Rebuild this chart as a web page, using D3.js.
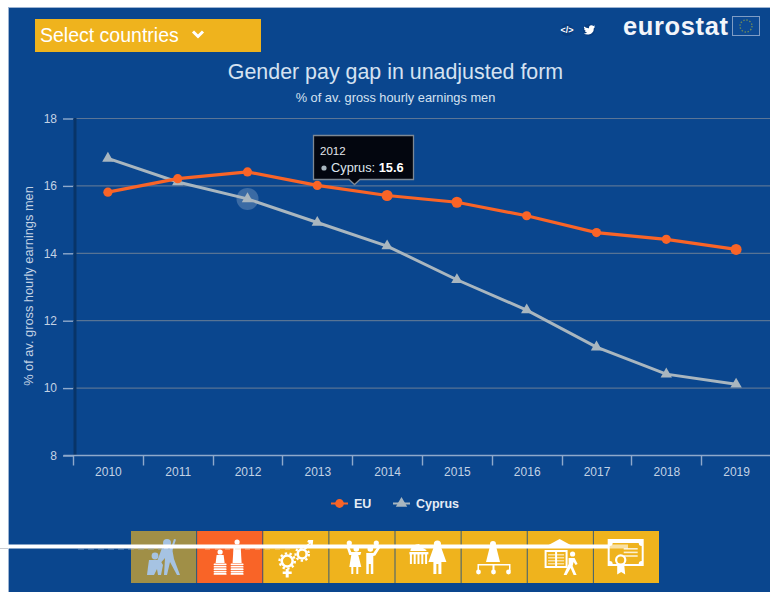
<!DOCTYPE html>
<html>
<head>
<meta charset="utf-8">
<script src="https://cdn.jsdelivr.net/npm/d3@7/dist/d3.min.js"></script>
<style>
html, body { margin: 0; padding: 0; background: #fff; }
svg { display: block; font-family: "Liberation Sans", Arial, sans-serif; }
</style>
</head>
<body>
<script>
const years = [2010, 2011, 2012, 2013, 2014, 2015, 2016, 2017, 2018, 2019];
const euValues = [15.8, 16.2, 16.4, 16.0, 15.7, 15.5, 15.1, 14.6, 14.4, 14.1];
const cyprusValues = [16.8, 16.1, 15.6, 14.9, 14.2, 13.2, 12.3, 11.2, 10.4, 10.1];
const yTicks = [8, 10, 12, 14, 16, 18];
const largeEuYears = [2014, 2015, 2019];
const tileColors = ["#a08f47", "#f96427", "#efb31d", "#efb31d", "#efb31d", "#efb31d", "#efb31d", "#efb31d"];
const hoverYear = 2012;

const width = 770, height = 592;
const blue = "#0a468e", orange = "#f96427", grey = "#a9b6bf";

const svg = d3.select("body").append("svg")
    .attr("width", width)
    .attr("height", height);

svg.append("rect")
    .attr("x", 8.5).attr("y", 7.5)
    .attr("width", width).attr("height", height)
    .attr("fill", blue)
    .attr("stroke", "#9db4d2");

const x = d3.scaleBand().domain(years).range([73, 771]);
const y = d3.scaleLinear().domain([8, 18]).range([455, 118]);
const cx = d => x(d) + x.bandwidth() / 2;

// header
svg.append("rect").attr("x", 35).attr("y", 19).attr("width", 226).attr("height", 33).attr("fill", "#efb31d");
svg.append("text").attr("x", 40).attr("y", 41.5).attr("font-size", 19.5).attr("fill", "#fff").text("Select countries");
svg.append("path").attr("d", "M193 31.5l5 5 5-5").attr("fill", "none").attr("stroke", "#fff").attr("stroke-width", 3);

svg.append("text").attr("x", 395.5).attr("y", 78.5).attr("text-anchor", "middle")
    .attr("font-size", 21.4).attr("fill", "#d5e2f1").text("Gender pay gap in unadjusted form");
svg.append("text").attr("x", 395.5).attr("y", 102).attr("text-anchor", "middle")
    .attr("font-size", 12.8).attr("fill", "#d5e2f1").text("% of av. gross hourly earnings men");

svg.append("text").attr("x", 623).attr("y", 35).attr("font-size", 25.5).attr("font-weight", "bold")
    .attr("textLength", 105).attr("fill", "#f2f5fa").text("eurostat");
svg.append("rect").attr("x", 732.5).attr("y", 16.5).attr("width", 27).attr("height", 19)
    .attr("fill", "#0d4a94").attr("stroke", "#7f9cc4");
svg.append("circle").attr("cx", 746).attr("cy", 26).attr("r", 6).attr("fill", "none")
    .attr("stroke", "#6d8a5c").attr("stroke-width", 1.4).attr("stroke-dasharray", "1.4 1.7");

// share icons
svg.append("circle").attr("cx", 567).attr("cy", 30).attr("r", 6).attr("fill", "#083d80");
svg.append("circle").attr("cx", 589).attr("cy", 30).attr("r", 6).attr("fill", "#083d80");
svg.append("text").attr("x", 567).attr("y", 33).attr("text-anchor", "middle").attr("font-size", 9)
    .attr("font-weight", "bold").attr("fill", "#fff").text("</>");
svg.append("path").attr("d", "M584 26.5q2.5 2 5 1.8q-.2-2.8 2.4-3q1.3 0 2 .8l1.7-.6l-1 1.5l1-.2q-.5.9-1.3 1.4q.1 5-5 6.3q-3 .4-5-1q2 0 3.3-1q-1.8-.2-2.2-1.5h1q-1.8-.7-1.8-2.3l1 .3q-1.7-1-1.1-2.5z")
    .attr("fill", "#fff");

// axes
const yAxis = d3.axisLeft(y).tickValues(yTicks).tickSize(10).tickPadding(6);
const xAxis = d3.axisBottom(x).tickSize(0).tickPadding(12);

svg.append("g").attr("class", "grid").selectAll("line")
    .data(yTicks.filter(d => d > 8))
    .join("line")
    .attr("x1", 73).attr("x2", width)
    .attr("y1", d => y(d) + 0.5).attr("y2", d => y(d) + 0.5)
    .attr("stroke", d => d === 18 ? "#5b7596" : "#6b7f97");

svg.append("line").attr("x1", 75).attr("x2", 75).attr("y1", 118).attr("y2", 455)
    .attr("stroke", "#083468").attr("stroke-width", 3);

const yG = svg.append("g").attr("transform", "translate(73,0.5)").call(yAxis);
yG.select(".domain").remove();
yG.selectAll("line").attr("stroke", "#8fa9cb").attr("stroke-width", 1.4);
yG.selectAll("text").attr("font-size", 12).attr("font-family", "inherit").attr("fill", "#c3d2e4");

const xG = svg.append("g").attr("transform", "translate(0.5,455.5)").call(xAxis);
xG.select(".domain").remove();
xG.selectAll(".tick line").remove();
xG.selectAll("text").attr("font-size", 12).attr("font-family", "inherit").attr("fill", "#c3d2e4");
xG.append("line").attr("x1", 63).attr("x2", width).attr("stroke", "#8fa9cb").attr("stroke-width", 1.4);
xG.selectAll(".edge").data(years).join("line").attr("class", "edge")
    .attr("x1", d => Math.round(x(d))).attr("x2", d => Math.round(x(d)))
    .attr("y1", 0).attr("y2", 10).attr("stroke", "#8fa9cb").attr("stroke-width", 1.4);

svg.append("text")
    .attr("transform", "translate(33,286) rotate(-90)")
    .attr("text-anchor", "middle").attr("font-size", 12.8).attr("fill", "#c3d2e4")
    .text("% of av. gross hourly earnings men");

// series
const line = d3.line().x(d => cx(d[0])).y(d => y(d[1]));
const euPts = d3.zip(years, euValues);
const cyPts = d3.zip(years, cyprusValues);
const tri = d3.symbol().type(d3.symbolTriangle).size(56);

svg.append("circle").attr("cx", cx(hoverYear)).attr("cy", y(cyprusValues[years.indexOf(hoverYear)]))
    .attr("r", 11).attr("fill", "#fff").attr("opacity", 0.2);

svg.append("path").datum(cyPts).attr("d", line).attr("fill", "none").attr("stroke", grey).attr("stroke-width", 3);
svg.selectAll(".cy").data(cyPts).join("path").attr("class", "cy")
    .attr("transform", d => `translate(${cx(d[0])},${y(d[1])})`)
    .attr("d", tri).attr("fill", grey);

svg.append("path").datum(euPts).attr("d", line).attr("fill", "none").attr("stroke", orange).attr("stroke-width", 3.2);
svg.selectAll(".eu").data(euPts).join("circle").attr("class", "eu")
    .attr("cx", d => cx(d[0])).attr("cy", d => y(d[1]))
    .attr("r", d => largeEuYears.includes(d[0]) ? 5.5 : 4.6)
    .attr("fill", orange);

// tooltip
const tip = svg.append("g").attr("transform", "translate(313,135)");
tip.append("path").attr("d", "M0.5 0.5H100.5V44.5H47L41.5 49.5L36 44.5H0.5Z")
    .attr("fill", "#03060f").attr("stroke", "#7d8894").attr("stroke-width", 1.3);
tip.append("text").attr("x", 7).attr("y", 20).attr("font-size", 11.5).attr("fill", "#e3e7ec").text(hoverYear);
tip.append("circle").attr("cx", 11).attr("cy", 33).attr("r", 2.6).attr("fill", grey);
const tipText = tip.append("text").attr("x", 18).attr("y", 37).attr("font-size", 12.8).attr("fill", "#dfe6ee");
tipText.append("tspan").text("Cyprus: ");
tipText.append("tspan").attr("font-weight", "bold").attr("fill", "#fff")
    .text(cyprusValues[years.indexOf(hoverYear)]);

// legend
const legend = svg.append("g").attr("font-size", 12.5).attr("font-weight", "bold").attr("fill", "#e5ecf5");
legend.append("line").attr("x1", 331).attr("x2", 348).attr("y1", 503.5).attr("y2", 503.5).attr("stroke", orange).attr("stroke-width", 2);
legend.append("circle").attr("cx", 339.5).attr("cy", 503.5).attr("r", 4.4).attr("fill", orange);
legend.append("text").attr("x", 354).attr("y", 508).text("EU");
legend.append("line").attr("x1", 393).attr("x2", 410).attr("y1", 503.5).attr("y2", 503.5).attr("stroke", grey).attr("stroke-width", 2);
legend.append("path").attr("transform", "translate(401.5,503.5)").attr("d", tri).attr("fill", grey);
legend.append("text").attr("x", 416).attr("y", 508).text("Cyprus");

// bottom tiles
const tileX = d3.scaleBand().domain(d3.range(tileColors.length)).range([131, 659]).paddingInner(0.012);
const tiles = svg.selectAll(".tile").data(tileColors).join("g").attr("class", "tile")
    .attr("transform", (d, i) => `translate(${tileX(i)},531)`);
tiles.append("rect").attr("width", tileX.bandwidth()).attr("height", 52).attr("fill", d => d);

const icons = [
    // woman with children
    g => {
        g.append("circle").attr("cx", 36).attr("cy", 12).attr("r", 4);
        g.append("path").attr("d", "M31 17h10l2 11l6 16h-3l-7-13l-3 13h-3l1-17l-7 8l-2-2z");
        g.append("path").attr("d", "M43 8l2 .5l-4 12l-2-.5z");
        g.append("circle").attr("cx", 24).attr("cy", 25).attr("r", 3.4);
        g.append("path").attr("d", "M18 29h11l3 5l-2 10h-3l-1-6l-3 6h-7l1-8z");
    },
    // figures on coins
    g => {
        [[23, 3], [40, 13]].forEach(([c, h]) => {
            g.append("circle").attr("cx", c).attr("cy", 24 - h).attr("r", 2.6);
            g.append("path").attr("d", `M${c - 3.5} ${27 - h}h7l1 ${h + 5}h-9z`);
            d3.range(5).forEach(k => g.append("rect").attr("x", c - 6.5).attr("y", 32.5 + k * 2.4).attr("width", 13).attr("height", 1.7).attr("rx", 0.85));
        });
    },
    // gears
    g => {
        [[24, 30, 5.5], [39, 23, 4.5]].forEach(([a, b, r]) => {
            g.append("circle").attr("cx", a).attr("cy", b).attr("r", r).attr("fill", "none").attr("stroke", "#fff").attr("stroke-width", 2.6);
            g.append("circle").attr("cx", a).attr("cy", b).attr("r", r + 2.2).attr("fill", "none").attr("stroke", "#fff").attr("stroke-width", 2.2).attr("stroke-dasharray", "2.4 2.4");
        });
        g.append("path").attr("d", "M22.5 38h3v2.5h3v2.5h-3v3.5h-3v-3.5h-3v-2.5h3z");
        g.append("path").attr("d", "M42 15l4-3l-2-1l1-2h5l-.5 5h-2l-.2-1.5l-4 3.5z");
    },
    // parents raising children
    g => {
        g.append("circle").attr("cx", 20).attr("cy", 12).attr("r", 2.6);
        g.append("circle").attr("cx", 27).attr("cy", 18).attr("r", 2.8);
        g.append("path").attr("d", "M17 15l2-1l3 7h10l-1 3l-2 0l3 12h-12l2-12h-2z");
        g.append("path").attr("d", "M22 36h2v7h-2zM27 36h2v7h-2z");
        g.append("circle").attr("cx", 47).attr("cy", 12).attr("r", 2.6);
        g.append("circle").attr("cx", 41).attr("cy", 18).attr("r", 2.8);
        g.append("path").attr("d", "M37 22h7l5-7l2 1.5l-5 8l-2 .5v18h-2.5v-10h-2v10h-2.5z");
    },
    // parliament and woman
    g => {
        g.append("path").attr("d", "M15 19q2-6 9-6v2l7 4v1h-16z");
        g.append("rect").attr("x", 14).attr("y", 21).attr("width", 19).attr("height", 2.4);
        d3.range(5).forEach(k => g.append("rect").attr("x", 14.5 + k * 3.8).attr("y", 23).attr("width", 2).attr("height", 10));
        g.append("circle").attr("cx", 42).attr("cy", 13).attr("r", 3.6);
        g.append("path").attr("d", "M38 17h8l5 14h-5v12h-3v-10h-2v10h-3v-12h-5z");
    },
    // woman with org chart
    g => {
        g.append("circle").attr("cx", 31.5).attr("cy", 13).attr("r", 3);
        g.append("path").attr("d", "M28 17h7l3.5 14h-14z");
        g.append("path").attr("d", "M16 40v-7h33v7h-1.5v-5.5h-14.5v5.5h-2v-5.5h-13.5v5.5z");
        [17, 32, 47].forEach(c => g.append("circle").attr("cx", c).attr("cy", 41).attr("r", 2.4));
    },
    // book and walking person
    g => {
        g.append("path").attr("d", "M21 14l11-6l11 6v2h-22z");
        g.append("path").attr("fill-rule", "evenodd").attr("d", "M17 19h23v18h-23zM19 21v14h8.5v-14zM29.5 21v14h8.5v-14z");
        d3.range(4).forEach(k => g.append("rect").attr("x", 20.5).attr("y", 23 + k * 3).attr("width", 16).attr("height", 1.5).attr("opacity", 0.6));
        g.append("circle").attr("cx", 45).attr("cy", 23).attr("r", 2.6);
        g.append("path").attr("d", "M41 27h6l3 6l-2 1l-2-3l-1 4l4 9h-3l-3-7l-4 7h-3l5-11z");
    },
    // certificate
    g => {
        g.append("path").attr("fill-rule", "evenodd").attr("d", "M14 8h36v27h-36zM19 12q0 3-3 3v15q3 0 3 3h26q0-3 3-3v-15q-3 0-3-3z");
        d3.range(3).forEach(k => g.append("rect").attr("x", 30).attr("y", 17 + k * 3.6).attr("width", 14).attr("height", 1.6).attr("opacity", 0.8));
        g.append("circle").attr("cx", 27).attr("cy", 29).attr("r", 4.6).attr("fill", "none").attr("stroke", "#fff").attr("stroke-width", 2.2);
        g.append("path").attr("d", "M23.5 33.5h7l1 10l-4-2.5l-4 2.5z");
    }
];

tiles.each(function (d, i) {
    const g = d3.select(this).append("g").attr("fill", i === 0 ? "#a6c3e2" : "#fff");
    icons[i](g);
});

// band over the tiles, with the clipped text showing under it
svg.append("rect").attr("x", 0).attr("y", 544.5).attr("width", 608).attr("height", 4).attr("fill", "#fff");
svg.append("rect").attr("x", 608).attr("y", 544.5).attr("width", 20).attr("height", 4).attr("fill", "#fff").attr("opacity", 0.6);
svg.append("line").attr("x1", 0).attr("x2", 8).attr("y1", 548.5).attr("y2", 548.5).attr("stroke", "#c9ccd2");
svg.append("line").attr("x1", 78).attr("x2", 170).attr("y1", 549).attr("y2", 549)
    .attr("stroke", "#9fb5d2").attr("stroke-width", 1).attr("stroke-dasharray", "6 4").attr("opacity", 0.7);
svg.append("line").attr("x1", 205).attr("x2", 290).attr("y1", 549).attr("y2", 549)
    .attr("stroke", "#f3dcc0").attr("stroke-width", 1).attr("stroke-dasharray", "5 5").attr("opacity", 0.7);
</script>
</body>
</html>
